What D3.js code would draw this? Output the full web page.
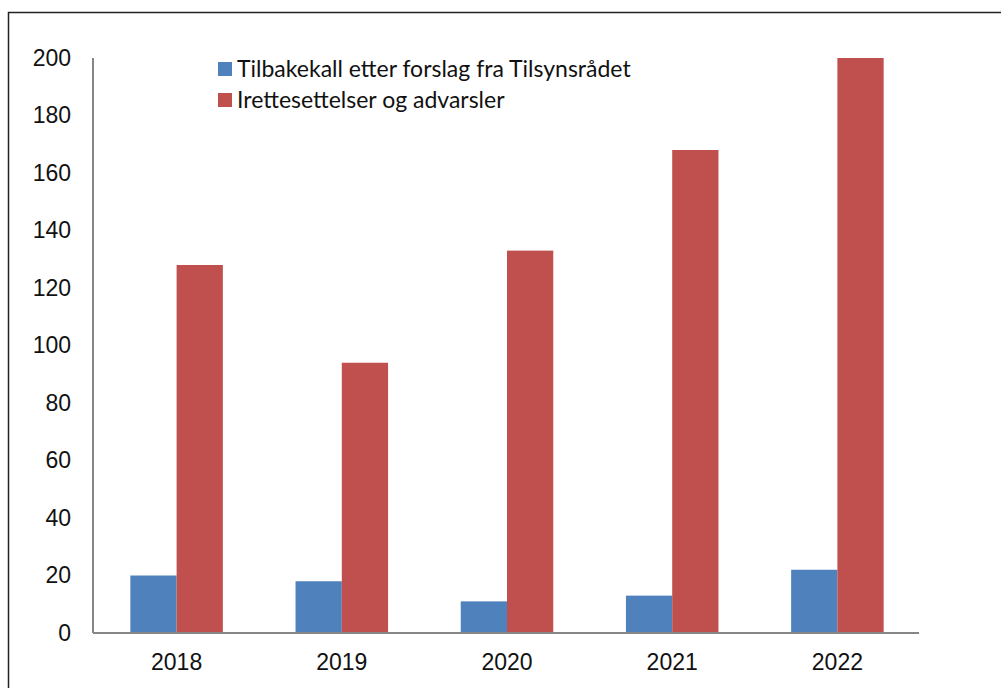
<!DOCTYPE html>
<html>
<head>
<meta charset="utf-8">
<script src="https://cdn.jsdelivr.net/npm/d3@7"></script>
<style>
  html, body { margin: 0; padding: 0; background: #fff; }
  svg { display: block; font-family: Lato, "Open Sans", sans-serif; }
</style>
</head>
<body>
<div id="chart"></div>
<script>
// chart data
const years = ['2018', '2019', '2020', '2021', '2022'];
const tilbakekall = [20, 18, 11, 13, 22];
const irettesettelser = [128, 94, 133, 168, 200];
const seriesNames = ['Tilbakekall etter forslag fra Tilsynsrådet', 'Irettesettelser og advarsler'];
const seriesColors = ['#4f81bd', '#c0504d'];
const yTicks = [0, 20, 40, 60, 80, 100, 120, 140, 160, 180, 200];

const width = 1001, height = 688;
const margin = {top: 58, right: 82, bottom: 55, left: 93};

const svg = d3.select('#chart').append('svg').attr('width', width).attr('height', height);

// outer frame (runs off the right and bottom edges)
svg.append('rect')
  .attr('x', 8.5).attr('y', 12.5)
  .attr('width', 1010).attr('height', 700)
  .attr('fill', 'none').attr('stroke', '#222').attr('stroke-width', 1.5);

const x = d3.scaleBand().domain(years).range([margin.left, width - margin.right]).paddingInner(0.44).paddingOuter(0.22);
const sub = d3.scaleBand().domain([0, 1]).range([0, x.bandwidth()]);
const y = d3.scaleLinear().domain([0, 200]).range([height - margin.bottom, margin.top]);

const g = svg.append('g');

const rows = years.map((yr, i) => ({year: yr, vals: [tilbakekall[i], irettesettelser[i]]}));

g.selectAll('.grp').data(rows).enter().append('g')
  .attr('class', 'grp')
  .attr('transform', d => `translate(${x(d.year) + 1},0)`)
  .selectAll('rect').data(d => d.vals.map((v, k) => ({v, k}))).enter().append('rect')
  .attr('x', d => sub(d.k))
  .attr('width', sub.bandwidth())
  .attr('y', d => y(d.v))
  .attr('height', d => y(0) - y(d.v))
  .attr('fill', d => seriesColors[d.k]);

// axes
const yAxis = g.append('g').attr('transform', `translate(${margin.left},0)`)
  .call(d3.axisLeft(y).tickValues(yTicks).tickSize(0).tickPadding(22));
const xAxis = g.append('g').attr('transform', `translate(0,${y(0)})`)
  .call(d3.axisBottom(x).tickSize(0).tickPadding(21));

[yAxis, xAxis].forEach(a => {
  a.select('.domain').attr('stroke', '#868686').attr('stroke-width', 2);
  a.selectAll('text').attr('fill', '#111').style('font-size', '23px');
});
xAxis.selectAll('text').attr('dx', 1);
xAxis.select('.domain').attr('d', `M${margin.left},0H${width - margin.right}`);
yAxis.select('.domain').attr('d', `M0,${y(200)}V${y(0)}`);

// legend
const legend = svg.append('g').attr('transform', 'translate(218,62)');
seriesNames.forEach((name, i) => {
  const row = legend.append('g').attr('transform', `translate(0,${i * 31})`);
  row.append('rect').attr('x', 0).attr('y', 0).attr('width', 14).attr('height', 14).attr('fill', seriesColors[i]);
  row.append('text').attr('x', 19).attr('y', 15).text(name)
    .style('font-size', '23px').attr('fill', '#111');
});
</script>
</body>
</html>
